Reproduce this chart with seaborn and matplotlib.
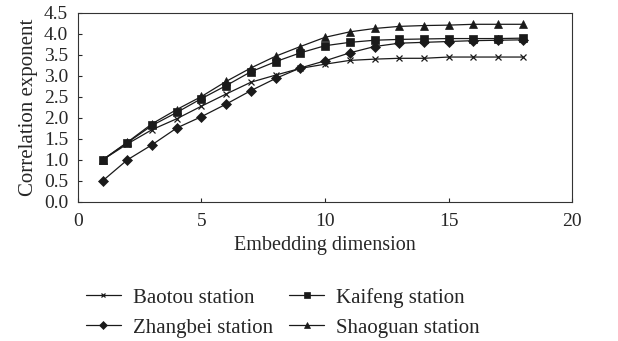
import matplotlib
matplotlib.use("Agg")
import matplotlib.pyplot as plt
import numpy as np
import pandas as pd
import seaborn as sns

dims = list(range(1, 19))
baotou = [1.00, 1.38, 1.72, 1.98, 2.28, 2.57, 2.85, 3.02, 3.18, 3.28, 3.37, 3.40, 3.42, 3.42, 3.45, 3.45, 3.45, 3.45]
zhangbei = [0.50, 1.00, 1.36, 1.76, 2.03, 2.33, 2.65, 2.94, 3.19, 3.36, 3.55, 3.70, 3.78, 3.80, 3.82, 3.84, 3.85, 3.86]
kaifeng = [1.00, 1.41, 1.82, 2.13, 2.46, 2.77, 3.10, 3.34, 3.55, 3.72, 3.80, 3.85, 3.87, 3.88, 3.89, 3.89, 3.89, 3.90]
shaoguan = [1.00, 1.42, 1.86, 2.20, 2.51, 2.87, 3.19, 3.47, 3.70, 3.92, 4.05, 4.13, 4.18, 4.20, 4.21, 4.23, 4.23, 4.23]

names = ["Baotou station", "Zhangbei station", "Kaifeng station", "Shaoguan station"]
series = [baotou, zhangbei, kaifeng, shaoguan]

df = pd.DataFrame({
    "dim": dims * len(names),
    "value": [v for s in series for v in s],
    "station": [n for n in names for _ in dims],
})

sns.set_style("ticks")
plt.rcParams["font.family"] = ["Liberation Serif", "DejaVu Serif"]
plt.rcParams["font.size"] = 14

fig = plt.figure(figsize=(6.18, 3.41), dpi=100)
ax = fig.add_axes([0.126, 0.408, 0.800, 0.554])

markers = {"Baotou station": "x", "Zhangbei station": "D",
           "Kaifeng station": "s", "Shaoguan station": "^"}
sizes = {"Baotou station": 4, "Zhangbei station": 5,
         "Kaifeng station": 5.5, "Shaoguan station": 6}
for n in names:
    sub = df[df.station == n]
    sns.lineplot(data=sub, x="dim", y="value", ax=ax, color="#1a1a1a",
                 marker=markers[n], markersize=sizes[n], linewidth=0.9,
                 markeredgecolor="#1a1a1a", markeredgewidth=0.9 if n == "Baotou station" else 0.5,
                 label=n)

ax.set_xlim(0, 20)
ax.set_ylim(0, 4.5)
ax.set_xticks([0, 5, 10, 15, 20])
ax.set_yticks(np.arange(0, 4.51, 0.5))
ax.yaxis.set_major_formatter(matplotlib.ticker.FormatStrFormatter("%.1f"))
ax.tick_params(direction="in", length=3, width=0.8, labelsize=14)
ax.tick_params(axis="x", pad=8)
ax.tick_params(axis="y", pad=7)
for sp in ax.spines.values():
    sp.set_linewidth(0.8)
    sp.set_color("#333333")
ax.set_xlabel("Embedding dimension", fontsize=14.5, labelpad=4)
ax.set_ylabel("Correlation exponent", fontsize=15, labelpad=4)

ax.legend(ncol=2, loc="center", bbox_to_anchor=(0.458, 0.083),
          bbox_transform=fig.transFigure, frameon=False,
          fontsize=15, handlelength=1.65, columnspacing=0.77, labelspacing=0.5,
          handletextpad=0.6, borderpad=0, markerscale=0.8)

fig.savefig("out.png", dpi=100)
